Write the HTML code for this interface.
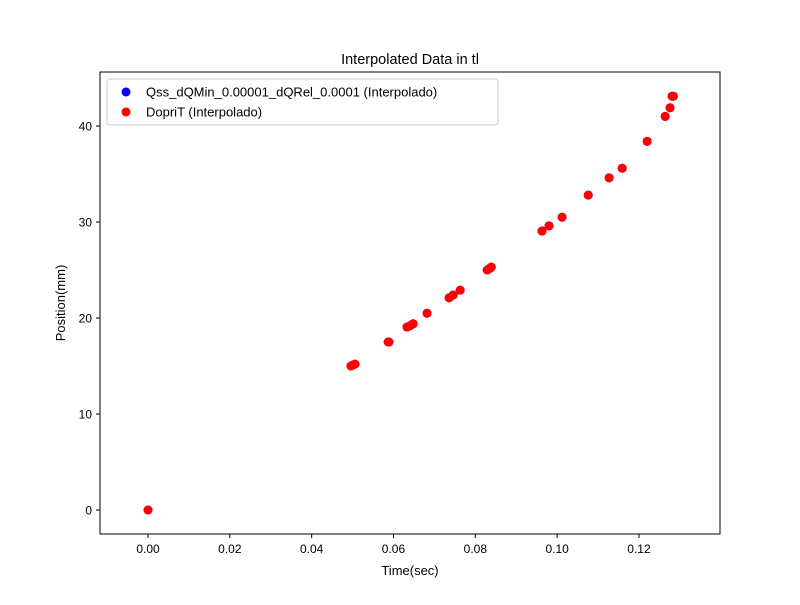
<!DOCTYPE html>
<html><head><meta charset="utf-8"><style>body{margin:0;background:#fff}svg{font-family:"Liberation Sans","DejaVu Sans",sans-serif}</style></head>
<body>
<svg id="c" width="800" height="600">
<rect width="800" height="600" fill="#fff"/>
<g id="marks"></g>
<rect x="100" y="72" width="620" height="462" fill="none" stroke="#000" stroke-width="1"/>
<g id="axes"></g>
<text x="410" y="64" font-size="14.5" text-anchor="middle">Interpolated Data in tl</text>
<text x="410" y="575" font-size="13" text-anchor="middle">Time(sec)</text>
<text x="65" y="303" font-size="13" text-anchor="middle" transform="rotate(-90 65 303)">Position(mm)</text>
<g>
<rect x="107" y="79" width="391" height="46" rx="3" fill="#fff" fill-opacity="0.8" stroke="#ccc"/>
<g><circle cx="126" cy="92" r="4.5" fill="blue"/><text x="146" y="96.5" font-size="13">Qss_dQMin_0.00001_dQRel_0.0001 (Interpolado)</text></g>
<g><circle cx="126" cy="112" r="4.5" fill="red"/><text x="146" y="116.5" font-size="13">DopriT (Interpolado)</text></g>
</g>
</svg>
<script>
const times=[0,0.0496,0.0501,0.0506,0.0587,0.0589,0.0633,0.0641,0.0648,0.0682,0.0736,0.0746,0.0763,0.0829,0.0836,0.0839,0.0963,0.098,0.1012,0.1076,0.1127,0.1159,0.122,0.1264,0.1276,0.1281,0.1284];
const qssPos=[0,15.0,15.1,15.2,17.5,17.5,19.06,19.2,19.4,20.5,22.1,22.4,22.9,25.0,25.2,25.3,29.06,29.6,30.5,32.8,34.6,35.6,38.4,41.0,41.9,43.1,43.1];
const dopriPos=[0,15.0,15.1,15.2,17.5,17.5,19.06,19.2,19.4,20.5,22.1,22.4,22.9,25.0,25.2,25.3,29.06,29.6,30.5,32.8,34.6,35.6,38.4,41.0,41.9,43.1,43.1];
const xTicks=[0,0.02,0.04,0.06,0.08,0.1,0.12];
const xTickLabels=["0.00","0.02","0.04","0.06","0.08","0.10","0.12"];
const yTicks=[0,10,20,30,40];
const yTickLabels=["0","10","20","30","40"];
const X0=-0.01173,X1=0.1398,Y0=-2.5,Y1=45.625;
const sx=v=>100+(v-X0)/(X1-X0)*620;
const sy=v=>534-(v-Y0)/(Y1-Y0)*462;
const NS="http://www.w3.org/2000/svg";
const marks=document.getElementById('marks'),axes=document.getElementById('axes');
function dots(ys,color,name){
 ys.forEach((y,i)=>{const c=document.createElementNS(NS,'circle');
 c.setAttribute('cx',sx(times[i]));c.setAttribute('cy',sy(y));c.setAttribute('r',4.5);c.setAttribute('fill',color);
 
 
 marks.appendChild(c);});
}
dots(qssPos,'blue','qss-point');
dots(dopriPos,'red','dopri-point');
xTicks.forEach((t,i)=>{const x=sx(t);
 const l=document.createElementNS(NS,'line');l.setAttribute('x1',x);l.setAttribute('x2',x);l.setAttribute('y1',534);l.setAttribute('y2',538);l.setAttribute('stroke','#000');
 
 
 axes.appendChild(l);
 const tx=document.createElementNS(NS,'text');tx.setAttribute('x',x);tx.setAttribute('y',553);tx.setAttribute('font-size','12');tx.setAttribute('text-anchor','middle');tx.textContent=xTickLabels[i];
 
 
 axes.appendChild(tx);});
yTicks.forEach((t,i)=>{const y=sy(t);
 const l=document.createElementNS(NS,'line');l.setAttribute('x1',96);l.setAttribute('x2',100);l.setAttribute('y1',y);l.setAttribute('y2',y);l.setAttribute('stroke','#000');
 
 
 axes.appendChild(l);
 const tx=document.createElementNS(NS,'text');tx.setAttribute('x',92);tx.setAttribute('y',y+4.5);tx.setAttribute('font-size','12');tx.setAttribute('text-anchor','end');tx.textContent=yTickLabels[i];
 
 
 axes.appendChild(tx);});
</script>
</body></html>
